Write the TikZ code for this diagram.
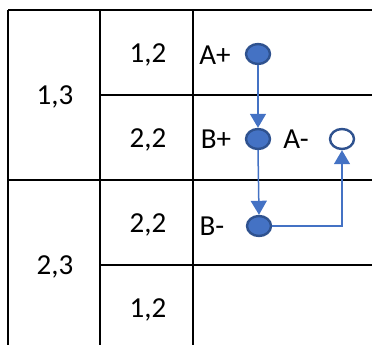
\documentclass[tikz,border=0pt]{standalone}
\usepackage{fontspec}
\setmainfont{Carlito}
\usetikzlibrary{arrows.meta,shapes.geometric}
\definecolor{fillblue}{HTML}{4472C4}
\definecolor{edgeblue}{HTML}{2F528F}
\begin{document}
\begin{tikzpicture}[x=1pt,y=-1pt,
  grid/.style={line width=2.2pt,black},
  lbl/.style={font=\fontsize{29}{32}\selectfont,inner sep=0pt,anchor=center},
  dot/.style={ellipse,draw=edgeblue,fill=fillblue,line width=2.4pt,minimum width=24pt,minimum height=20pt,inner sep=0pt},
  odot/.style={dot,fill=white},
  conn/.style={draw=fillblue,line width=1.5pt,-{Triangle[width=16pt,length=14pt]}}]
\useasboundingbox (0,0) rectangle (372,345);
% grid
\draw[grid] (8,10) -- (372,10);
\draw[grid] (8,10) -- (8,345);
\draw[grid] (100,10) -- (100,345);
\draw[grid] (193,10) -- (193,345);
\draw[grid] (100,95) -- (372,95);
\draw[grid] (8,180) -- (372,180);
\draw[grid] (100,265) -- (372,265);
% labels
\node[lbl] (l13) at (55,97) {1,3};
\node[lbl] (l23) at (55,267) {2,3};
\node[lbl] (m1) at (148,55) {1,2};
\node[lbl] (m2) at (148,140) {2,2};
\node[lbl] (m3) at (148,225) {2,2};
\node[lbl] (m4) at (148,310) {1,2};
\node[lbl] (tap) at (215,55) {A+};
\node[lbl] (tbp) at (216,139) {B+};
\node[lbl] (tam) at (296,139) {A-};
\node[lbl] (tbm) at (212,226) {B-};
% dots
\node[dot] (ap) at (258,54) {};
\node[dot] (bp) at (258,139) {};
\node[odot] (am) at (342,139) {};
\node[dot] (bm) at (259,226) {};
% connectors
\draw[conn] (ap.south) -- (bp.north);
\draw[conn] (bp.south) -- (bm.north);
\draw[conn] (bm.east) -| (am.south);
\end{tikzpicture}
\end{document}
